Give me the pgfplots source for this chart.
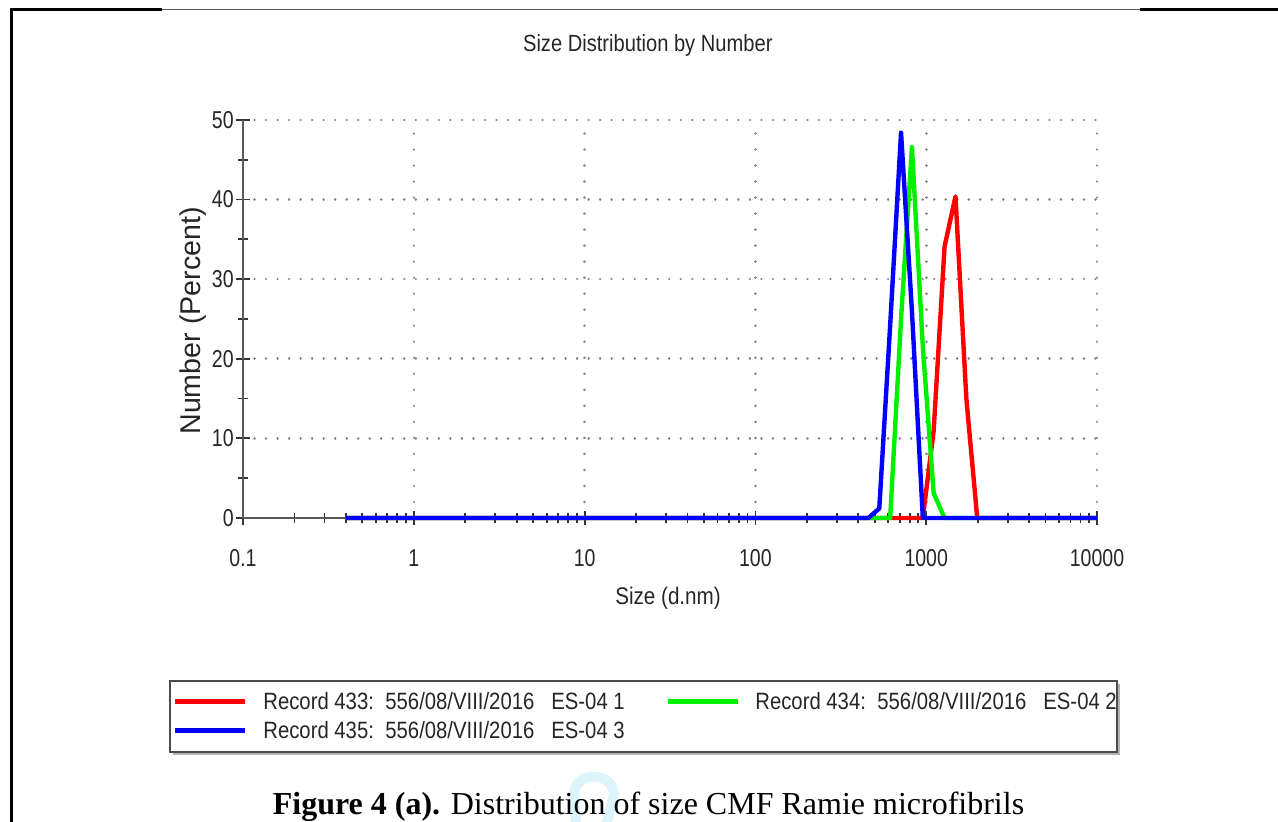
\documentclass[border=0pt]{standalone}
\usepackage{fontspec}
\usepackage{pgfplots}
\usepackage{pgfplotstable}
\pgfplotsset{compat=1.18}
\setmainfont{Liberation Serif}
\newfontfamily\cf[FakeStretch=0.86]{Liberation Sans}
\newfontfamily\tf[FakeStretch=0.8]{Liberation Sans}
\newfontfamily\plainsans{Liberation Sans}
\definecolor{dgreen}{HTML}{00F000}

\pgfplotstableread{
x y
0.4 0
458.7 0
531.2 0
615.1 0
712.4 0
825.0 0
955.4 0
1106 11
1281 34.1
1484 40.4
1718 15
1990 0
2305 0
10000 0
}\redt
\pgfplotstableread{
x y
0.4 0
458.7 0
531.2 0
615.1 0
712.4 25
825.0 46.6
955.4 21.5
1106 3.1
1281 0
1484 0
10000 0
}\greent
\pgfplotstableread{
x y
0.4 0
458.7 0
531.2 1.2
615.1 24.2
712.4 48.4
825.0 26
955.4 0
1106 0
10000 0
}\bluet

\begin{document}
\begin{tikzpicture}
\useasboundingbox (0pt,0pt) rectangle (639pt,411pt);
% frame lines
\draw[black, line width=1.5pt] (5pt,406.25pt) -- (81pt,406.25pt);
\draw[black!65, line width=0.75pt] (81pt,406.25pt) -- (570pt,406.25pt);
\draw[black, line width=1.5pt] (570pt,406.25pt) -- (639pt,406.25pt);
\draw[black, line width=1.5pt] (5.5pt,407pt) -- (5.5pt,0pt);

% faint watermark stroke behind the caption
\draw[cyan!13, line width=5pt, line cap=round, line join=round] (288pt,-2pt) -- (287pt,14pt) .. controls (287pt,25pt) and (306pt,26pt) .. (307pt,14pt) -- (303pt,-2pt);

\begin{axis}[
  at={(121.5pt,152pt)}, anchor=south west,
  scale only axis, width=427pt, height=199pt,
  xmode=log, xmin=0.1, xmax=10000, ymin=0, ymax=50,
  enlargelimits=false, clip=false,
  axis x line=bottom, axis y line=left,
  axis line style={-, draw=black!65, line width=1pt},
  xtick={0.1,1,10,100,1000,10000},
  xticklabels={0.1,1,10,100,1000,10000},
  minor xtick={0.2,0.3,0.4,0.5,0.6,0.7,0.8,0.9,2,3,4,5,6,7,8,9,20,30,40,50,60,70,80,90,200,300,400,500,600,700,800,900,2000,3000,4000,5000,6000,7000,8000,9000},
  ytick={0,10,20,30,40,50},
  minor ytick={5,15,25,35,45},
  tick align=center,
  major tick length=7pt, minor tick length=5pt,
  tick style={black!80, line width=0.9pt},
  grid=major,
  x grid style={black!50, line width=1.3pt, line cap=round, dash pattern=on 0.01pt off 8pt},
  y grid style={black!50, line width=1.3pt, line cap=round, dash pattern=on 0.01pt off 5.75pt},
  xticklabel style={font=\tf\fontsize{12.2}{14}\selectfont, text=black!85, inner sep=0pt, anchor=north, yshift=-12pt},
  yticklabel style={font=\tf\fontsize{12.2}{14}\selectfont, text=black!85, inner sep=0pt, anchor=east, xshift=-1pt},
  /pgf/number format/assume math mode=true,
  title={Size Distribution by Number},
  title style={at={(axis description cs:0.474,1.156)}, anchor=center, inner sep=0pt, text=black!85, font=\cf\fontsize{11.7}{14}\selectfont},
  xlabel={Size (d.nm)},
  xlabel style={at={(axis description cs:0.4977,-0.201)}, anchor=center, inner sep=0pt, text=black!85, font=\cf\fontsize{12}{14}\selectfont},
  ylabel={Number (Percent)},
  ylabel style={at={(axis description cs:-0.0590,0.495)}, anchor=center, rotate=0, inner sep=0pt, text=black!85, font=\plainsans\fontsize{14.3}{16}\selectfont},
]
\addplot[red, line width=2.2pt, line join=round] table[x=x,y=y] {\redt};
\addplot[dgreen, line width=2.2pt, line join=round] table[x=x,y=y] {\greent};
\addplot[blue, line width=2.2pt, line join=round] table[x=x,y=y] {\bluet};
\end{axis}

% legend
\fill[black!30] (86.5pt,33.5pt) rectangle (560pt,69pt);
\fill[white] (85pt,35pt) rectangle (558.5pt,70.5pt);
\draw[black!70, line width=1pt] (85pt,35pt) rectangle (558.5pt,70.5pt);
\begin{scope}
\clip (85pt,35pt) rectangle (558pt,70.5pt);
\draw[red, line width=2.5pt] (87.5pt,60pt) -- (122.5pt,60pt);
\draw[dgreen, line width=2.5pt] (334pt,60pt) -- (369pt,60pt);
\draw[blue, line width=2.5pt] (87.5pt,45.5pt) -- (122.5pt,45.5pt);
\begin{scope}[every node/.style={anchor=base west, inner sep=0pt, text=black!85, font=\cf\fontsize{11.8}{14}\selectfont}]
\node at (131.5pt,56.25pt) {Record 433:};
\node at (192.5pt,56.25pt) {556/08/VIII/2016};
\node at (275.5pt,56.25pt) {ES-04 1};
\node at (131.5pt,41.75pt) {Record 435:};
\node at (192.5pt,41.75pt) {556/08/VIII/2016};
\node at (275.5pt,41.75pt) {ES-04 3};
\node at (377.5pt,56.25pt) {Record 434:};
\node at (438.5pt,56.25pt) {556/08/VIII/2016};
\node at (521.5pt,56.25pt) {ES-04 2};
\end{scope}
\end{scope}

% caption
\node[anchor=base, inner sep=0pt] at (324.25pt,3.5pt) {\fontsize{16}{19}\selectfont\textbf{Figure 4 (a).} Distribution of size CMF Ramie microfibrils};
\end{tikzpicture}
\end{document}
